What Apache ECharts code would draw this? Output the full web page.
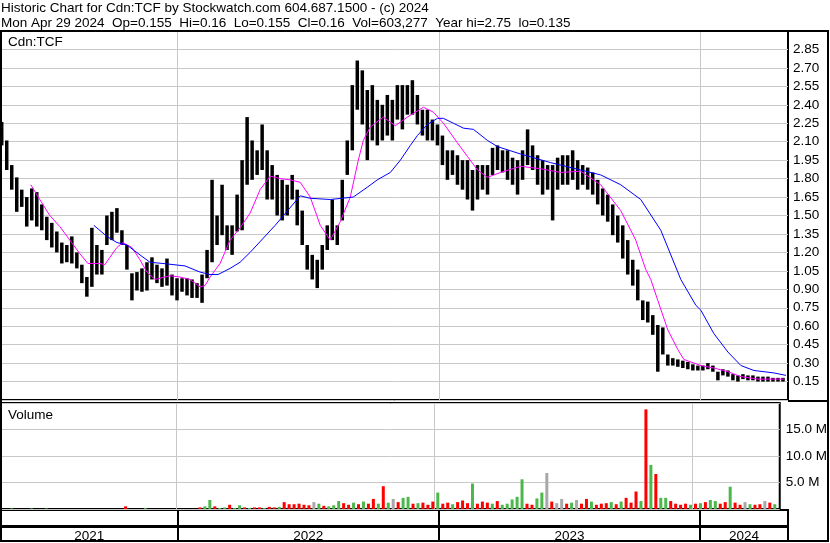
<!DOCTYPE html>
<html>
<head>
<meta charset="utf-8">
<script src="https://cdn.jsdelivr.net/npm/echarts@6/dist/echarts.min.js"></script>
<style>
html, body { margin: 0; padding: 0; background: #fff; }
#chart { width: 830px; height: 543px; }
</style>
</head>
<body>
<div id="chart"></div>
<script>
// weekly price range, first week ends Fri 2021-04-30
const weekHigh = [2.26,2.11,1.91,1.81,1.71,1.65,1.72,1.69,1.59,1.49, 1.44,1.37,1.28,1.26,1.33,1.20,1.10,1.00,1.40,1.26,
  1.22,1.50,1.53,1.56,1.38,1.26,1.03,1.04,1.07,1.12, 1.16,1.10,1.07,1.15,1.02,0.99,0.99,0.99,0.98,0.95,
  1.02,1.22,1.79,1.50,1.75,1.42,1.42,1.67,1.95,2.30, 2.11,2.03,2.24,2.03,1.91,1.83,1.79,1.75,1.83,1.71,
  1.54,1.26,1.18,1.14,1.26,1.42,1.63,1.42,1.79,2.11, 2.56,2.76,2.68,2.52,2.56,2.44,2.40,2.48,2.44,2.56,
  2.56,2.56,2.60,2.48,2.36,2.36,2.28,2.24,2.15,2.03, 2.03,1.99,1.95,1.95,1.87,1.91,1.91,1.91,2.05,2.07,
  2.03,2.03,1.97,1.95,2.03,2.20,2.07,1.99,1.95,1.91, 1.91,1.97,1.99,1.99,2.03,1.95,1.91,1.89,1.85,1.79,
  1.72,1.67,1.59,1.50,1.42,1.30,1.14,1.06,0.81,0.80, 0.69,0.61,0.59,0.37,0.34,0.33,0.32,0.31,0.29,0.28,
  0.28,0.30,0.28,0.23,0.25,0.24,0.21,0.20,0.21,0.20, 0.20,0.19,0.19,0.19,0.18,0.18,0.18];
const weekLow = [2.07,1.87,1.71,1.53,1.57,1.41,1.46,1.41,1.38,1.30, 1.24,1.20,1.11,1.12,1.11,1.07,0.95,0.84,0.92,1.02,
  1.02,1.26,1.30,1.36,1.26,1.06,0.81,0.89,0.88,0.89, 0.98,0.95,0.92,0.93,0.85,0.81,0.88,0.85,0.83,0.83,
  0.79,0.99,1.12,1.26,1.34,1.22,1.18,1.37,1.38,1.75, 1.79,1.83,1.87,1.63,1.63,1.50,1.46,1.50,1.63,1.42,
  1.26,1.06,0.98,0.91,1.06,1.22,1.30,1.26,1.46,1.83, 2.03,2.36,2.24,1.95,2.11,2.07,2.11,2.15,2.11,2.28,
  2.20,2.32,2.32,2.24,2.15,2.11,2.11,2.07,1.91,1.79, 1.83,1.75,1.71,1.63,1.54,1.63,1.71,1.67,1.83,1.87,
  1.85,1.79,1.75,1.67,1.79,1.91,1.87,1.75,1.67,1.71, 1.46,1.71,1.75,1.75,1.79,1.71,1.75,1.71,1.67,1.59,
  1.50,1.45,1.34,1.28,1.15,1.02,0.93,0.81,0.65,0.63, 0.53,0.23,0.37,0.28,0.28,0.27,0.26,0.25,0.24,0.24,
  0.24,0.25,0.23,0.16,0.20,0.19,0.16,0.15,0.17,0.16, 0.16,0.15,0.15,0.15,0.15,0.15,0.15];

// volume in millions, and r = down, g = up, n = unchanged
const volume = [0,0,0.1,0,0,0,0.1,0,0,0.1, 0,0,0,0,0,0,0,0,0,0,
  0,0,0,0,0,0.5,0,0,0,0.15, 0,0,0,0,0,0,0,0,0,0,
  0.3,0.5,1.7,0.5,0.2,0.3,0.8,0.2,0.7,0.3, 0.2,0.3,0.3,0.2,0.4,0.3,0.4,1.3,0.9,0.9,
  1.0,0.8,0.7,1.3,1.0,0.6,0.5,0.7,1.5,1.1, 0.8,1.2,0.9,1.4,1.0,1.9,1.0,4.3,1.2,1.9,
  1.3,2.1,2.3,1.0,1.1,1.2,0.8,1.4,3.1,1.0, 1.2,0.9,1.3,1.6,1.1,4.8,1.0,1.4,1.2,1.0,
  1.5,0.8,1.0,1.8,2.3,5.6,1.0,0.8,2.0,3.1, 6.8,1.4,1.1,1.9,1.0,1.2,1.7,1.0,1.9,1.4,
  0.8,1.0,1.1,1.3,0.9,1.4,2.1,1.2,3.3,1.5, 18.8,8.3,6.6,2.1,2.1,1.5,1.0,0.8,1.0,0.8,
  1.0,1.1,1.3,1.7,1.5,1.0,1.3,4.2,1.2,0.8, 1.3,0.9,0.8,0.9,1.5,1.2,0.9];
const volDir = ['r','r','g','r','r','r','g','r','r','g', 'r','r','r','r','r','r','r','r','r','r',
  'r','r','r','r','r','r','r','r','r','g', 'r','r','r','r','r','r','r','r','r','r',
  'r','g','g','r','g','g','r','g','g','r', 'g','r','r','g','r','r','g','r','r','r',
  'r','r','r','n','g','r','g','g','g','r', 'r','g','r','g','r','r','g','r','g','n',
  'r','g','g','r','g','r','r','r','g','r', 'r','g','r','r','r','g','r','r','r','g',
  'r','g','g','g','g','g','r','r','g','g', 'n','r','n','n','r','g','n','r','r','g',
  'r','r','r','g','r','g','r','r','r','g', 'r','g','r','g','g','r','r','r','r','g',
  'r','g','r','g','g','r','r','g','r','r', 'n','g','r','r','n','r','g'];

// moving averages: [week offset, price]
const maShort = [[5.8,1.75],[7.6,1.63],[9.6,1.50],[11.6,1.41],[13.6,1.30],[15.6,1.19],[17.2,1.11],[19.6,1.11],
  [20.6,1.10],[21.6,1.16],[23,1.24],[24.2,1.28],[26,1.24],[27.6,1.14],[29,1.04],[30.6,0.98],[31.6,0.99],
  [33.6,1.01],[35.6,1.00],[37.6,0.98],[39.6,0.92],[40.6,0.93],[41.6,1.00],[43.6,1.11],[45.6,1.30],
  [47.6,1.40],[49.6,1.52],[51.6,1.71],[53.6,1.82],[55.6,1.80],[57.6,1.79],[59.6,1.77],[61.6,1.65],
  [63.6,1.42],[65.6,1.30],[67.6,1.45],[69.6,1.65],[71.2,1.95],[72.2,2.11],[73.6,2.22],[76.2,2.30],
  [78.6,2.23],[81,2.30],[84.2,2.38],[86.2,2.34],[88.2,2.25],[91,2.09],[93,1.98],[95,1.87],[97,1.81],
  [99.6,1.85],[103.6,1.90],[107.6,1.88],[111.6,1.85],[115.6,1.86],[119.6,1.75],[123.6,1.54],[126.6,1.30],
  [128.6,1.06],[129.6,0.98],[131,0.81],[133,0.57],[135,0.41],[136.2,0.33],[139.6,0.28],[142.2,0.26],
  [145,0.23],[147.6,0.19],[151,0.17],[156.2,0.17]];
const maLong = [[18.4,1.42],[21,1.33],[23,1.28],[25,1.26],[27.6,1.18],[29.6,1.12],[32.2,1.11],[36.6,1.09],
  [39.6,1.04],[41.6,1.02],[43.2,1.02],[45.6,1.07],[47.6,1.12],[49.6,1.20],[54.6,1.42],[59.6,1.66],
  [61.6,1.64],[65.6,1.63],[70.2,1.65],[73,1.73],[75,1.79],[77.6,1.85],[79.6,1.95],[81.6,2.07],[83,2.15],
  [85,2.24],[87,2.29],[88.2,2.29],[90.2,2.25],[92.2,2.21],[94.2,2.20],[97,2.11],[99,2.06],[103.6,2.00],
  [109.6,1.93],[115.6,1.87],[119.6,1.83],[123.6,1.75],[127.6,1.63],[131.6,1.38],[135.6,0.98],[138.6,0.77],
  [139.6,0.73],[142.2,0.54],[145,0.39],[147.6,0.28],[150.2,0.24],[154.2,0.22],[156.6,0.20]];

const yearTicks = ['2022-01-01','2023-01-01','2024-01-01'];

const DAY = 86400000;
const t0 = Date.UTC(2021, 3, 30);
const xMin = Date.UTC(2021, 3, 29);
const xMax = Date.UTC(2024, 4, 3);
const wkTime = w => t0 + w * 7 * DAY;
const yearStarts = yearTicks.map(d => Date.parse(d + 'T00:00:00Z'));
const bounds = [xMin].concat(yearStarts, [xMax]);
const yearMids = bounds.slice(1).map((b, i) => (b + bounds[i]) / 2);

const font = 'Liberation Sans, Arial, sans-serif';
const colors = { r: '#ff0000', g: '#4cb84c', n: '#a8a8a8' };

const priceData = weekHigh.map((h, i) => [wkTime(i), weekLow[i], h]);
const volData = volume.map((v, i) => ({ value: [wkTime(i), v], itemStyle: { color: colors[volDir[i]] } }));

function xAxisFor(grid, lineColor, lineWidth, extra) {
  return Object.assign({
    type: 'value', gridIndex: grid, min: xMin, max: xMax,
    axisLine: { show: false },
    axisTick: { show: false, customValues: yearStarts },
    axisLabel: { show: false },
    splitLine: { show: true, lineStyle: { color: lineColor, width: lineWidth } }
  }, extra || {});
}

const gridBase = { show: true, borderColor: '#000', borderWidth: 2, backgroundColor: 'transparent', left: 1, right: 42 };
const txt = { fontSize: 13.5, fontWeight: 'normal', color: '#000', fontFamily: font };

const chart = echarts.init(document.getElementById('chart'));
chart.setOption({
  animation: false,
  backgroundColor: '#fff',
  textStyle: { fontFamily: font },
  title: [
    { text: 'Historic Chart for Cdn:TCF by Stockwatch.com 604.687.1500 - (c) 2024', left: 1, top: 1, padding: 0, textStyle: txt },
    { text: 'Mon Apr 29 2024  Op=0.155  Hi=0.16  Lo=0.155  Cl=0.16  Vol=603,277  Year hi=2.75  lo=0.135', left: 1, top: 16, padding: 0, textStyle: txt },
    { text: 'Cdn:TCF', left: 8, top: 35, padding: 0, textStyle: txt },
    { text: 'Volume', left: 8, top: 408, padding: 0, textStyle: txt }
  ],
  graphic: [
    { type: 'rect', shape: { x: 1, y: 31, width: 827, height: 510 }, style: { fill: 'none', stroke: '#000', lineWidth: 2 }, z: 10 },
    { type: 'line', shape: { x1: 788, y1: 401, x2: 829, y2: 401 }, style: { stroke: '#000', lineWidth: 2 }, z: 10 }
  ],
  grid: [
    Object.assign({ top: 31, bottom: 143 }, gridBase),
    Object.assign({ top: 403, bottom: 34 }, gridBase),
    Object.assign({ top: 510, bottom: 16 }, gridBase),
    Object.assign({ top: 527, bottom: 2 }, gridBase)
  ],
  xAxis: [
    xAxisFor(0, '#c8c8c8', 1),
    xAxisFor(1, '#c8c8c8', 1),
    xAxisFor(2, '#000', 2, {
      axisLabel: Object.assign({ show: true, customValues: yearMids, margin: 3,
        formatter: v => String(new Date(v).getUTCFullYear()) }, txt)
    }),
    xAxisFor(3, '#000', 2)
  ],
  yAxis: [
    { type: 'value', gridIndex: 0, position: 'right', min: 0, max: 3, interval: 0.15,
      axisLine: { show: false }, axisTick: { show: false },
      axisLabel: Object.assign({ margin: 5, showMinLabel: false, showMaxLabel: false,
        formatter: v => v.toFixed(2) }, txt),
      splitLine: { show: true, lineStyle: { color: '#c8c8c8', width: 1 } } },
    { type: 'value', gridIndex: 1, position: 'right', min: 0, max: 20, interval: 5,
      axisLine: { show: false }, axisTick: { show: false },
      axisLabel: Object.assign({ margin: 6, showMinLabel: false, showMaxLabel: false,
        formatter: v => v.toFixed(1) + ' M' }, txt),
      splitLine: { show: true, lineStyle: { color: '#c8c8c8', width: 1 } } },
    { type: 'value', gridIndex: 2, show: false },
    { type: 'value', gridIndex: 3, show: false }
  ],
  series: [
    { type: 'custom', xAxisIndex: 0, yAxisIndex: 0, data: priceData, encode: { x: 0, y: [1, 2] },
      renderItem: (params, api) => {
        const x = api.value(0);
        const top = api.coord([x, api.value(2)]);
        const bot = api.coord([x, api.value(1)]);
        const w = 3.5;
        return { type: 'rect', shape: { x: top[0] - w / 2, y: top[1], width: w, height: Math.max(1.5, bot[1] - top[1]) },
          style: { fill: '#000' } };
      } },
    { type: 'line', xAxisIndex: 0, yAxisIndex: 0, data: maShort.map(p => [wkTime(p[0]), p[1]]),
      showSymbol: false, lineStyle: { color: '#ff00ff', width: 1 }, z: 3 },
    { type: 'line', xAxisIndex: 0, yAxisIndex: 0, data: maLong.map(p => [wkTime(p[0]), p[1]]),
      showSymbol: false, lineStyle: { color: '#0000ff', width: 1 }, z: 3 },
    { type: 'bar', xAxisIndex: 1, yAxisIndex: 1, data: volData, barWidth: 3 }
  ]
});
</script>
</body>
</html>
